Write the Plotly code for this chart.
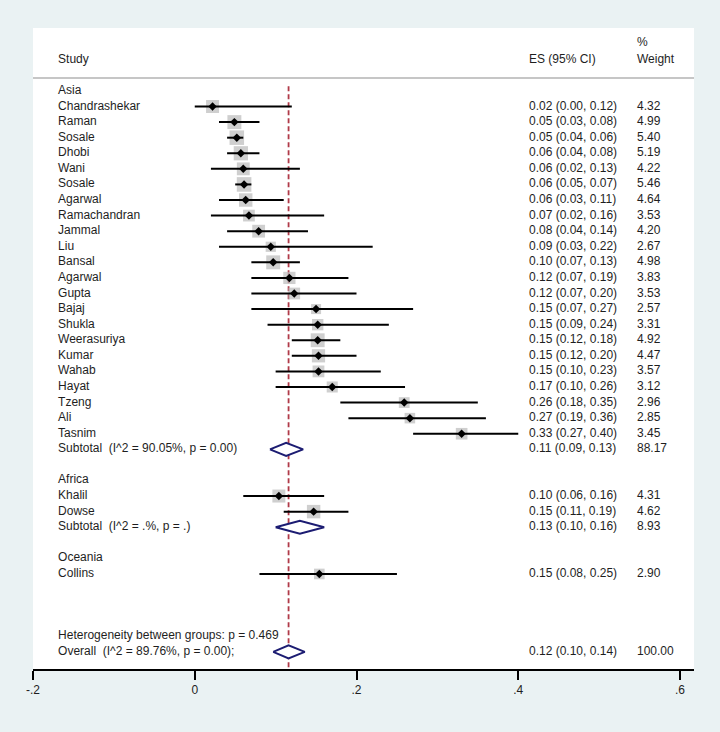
import plotly.graph_objects as go

# ---------------- data ----------------
asia_studies = ["Chandrashekar", "Raman", "Sosale", "Dhobi", "Wani", "Sosale", "Agarwal",
                "Ramachandran", "Jammal", "Liu", "Bansal", "Agarwal", "Gupta", "Bajaj",
                "Shukla", "Weerasuriya", "Kumar", "Wahab", "Hayat", "Tzeng", "Ali", "Tasnim"]
asia_es = [0.022, 0.049, 0.052, 0.057, 0.060, 0.061, 0.063, 0.067, 0.079, 0.094, 0.097,
           0.117, 0.123, 0.150, 0.152, 0.152, 0.153, 0.153, 0.170, 0.259, 0.266, 0.330]
asia_lo = [0.00, 0.03, 0.04, 0.04, 0.02, 0.05, 0.03, 0.02, 0.04, 0.03, 0.07,
           0.07, 0.07, 0.07, 0.09, 0.12, 0.12, 0.10, 0.10, 0.18, 0.19, 0.27]
asia_hi = [0.12, 0.08, 0.06, 0.08, 0.13, 0.07, 0.11, 0.16, 0.14, 0.22, 0.13,
           0.19, 0.20, 0.27, 0.24, 0.18, 0.20, 0.23, 0.26, 0.35, 0.36, 0.40]
asia_w = [4.32, 4.99, 5.40, 5.19, 4.22, 5.46, 4.64, 3.53, 4.20, 2.67, 4.98,
          3.83, 3.53, 2.57, 3.31, 4.92, 4.47, 3.57, 3.12, 2.96, 2.85, 3.45]
asia_sub = {"label": "Subtotal\u00a0 (I^2 = 90.05%, p = 0.00)", "es": 0.113, "lo": 0.093, "hi": 0.134, "w": 88.17}

africa_studies = ["Khalil", "Dowse"]
africa_es = [0.104, 0.147]
africa_lo = [0.06, 0.11]
africa_hi = [0.16, 0.19]
africa_w = [4.31, 4.62]
africa_sub = {"label": "Subtotal\u00a0 (I^2 = .%, p = .)", "es": 0.13, "lo": 0.10, "hi": 0.16, "w": 8.93}

oceania_studies = ["Collins"]
oceania_es = [0.154]
oceania_lo = [0.08]
oceania_hi = [0.25]
oceania_w = [2.90]

heterogeneity_text = "Heterogeneity between groups: p = 0.469"
overall = {"label": "Overall\u00a0 (I^2 = 89.76%, p = 0.00);", "es": 0.116, "lo": 0.097, "hi": 0.136, "w": 100.00}

tick_vals = [-0.2, 0, 0.2, 0.4, 0.6]
tick_text = ["-.2", "0", ".2", ".4", ".6"]

groups = [
    ("Asia", asia_studies, asia_es, asia_lo, asia_hi, asia_w, asia_sub),
    ("Africa", africa_studies, africa_es, africa_lo, africa_hi, africa_w, africa_sub),
    ("Oceania", oceania_studies, oceania_es, oceania_lo, oceania_hi, oceania_w, None),
]

# ---------------- layout of rows ----------------
study_rows = []   # (y, name, es, lo, hi, w)
diamond_rows = []  # (y, label, es, lo, hi, w)
label_rows = []   # (y, text)
row = 0
for gname, names, es, lo, hi, w, sub in groups:
    label_rows.append((row, gname))
    row += 1
    for i in range(len(names)):
        study_rows.append((row, names[i], es[i], lo[i], hi[i], w[i]))
        row += 1
    if sub is not None:
        diamond_rows.append((row, sub["label"], sub["es"], sub["lo"], sub["hi"], sub["w"]))
        row += 1
    row += 1
row += 2
label_rows.append((row, heterogeneity_text))
row += 1
diamond_rows.append((row, overall["label"], overall["es"], overall["lo"], overall["hi"], overall["w"]))

X_LABEL, X_ES, X_W = -0.169, 0.4133, 0.5468
TXT = "#1e1e1e"
FONT = "Liberation Sans, Arial, sans-serif"

fig = go.Figure()

# weight boxes
fig.add_trace(go.Scatter(
    x=[r[2] for r in study_rows], y=[r[0] for r in study_rows], mode="markers",
    marker=dict(symbol="square", size=[6.25 * r[5] ** 0.5 for r in study_rows],
                color="#bababa", line=dict(width=0)),
    hoverinfo="skip", showlegend=False))

# CI lines
lx, ly = [], []
for r in study_rows:
    lx += [r[3], r[4], None]
    ly += [r[0], r[0], None]
fig.add_trace(go.Scatter(x=lx, y=ly, mode="lines", line=dict(color="black", width=2),
                         hoverinfo="skip", showlegend=False))

# point estimates
fig.add_trace(go.Scatter(
    x=[r[2] for r in study_rows], y=[r[0] for r in study_rows], mode="markers",
    marker=dict(symbol="diamond", size=6.5, color="black", line=dict(width=0)),
    hoverinfo="skip", showlegend=False))

# diamonds
H = 0.42
for r in diamond_rows:
    y, _, es, lo, hi, _ = r
    fig.add_trace(go.Scatter(
        x=[lo, es, hi, es, lo], y=[y, y - H, y, y + H, y], mode="lines",
        fill="toself", fillcolor="white", line=dict(color="#1c1c72", width=2),
        hoverinfo="skip", showlegend=False))

# text columns
lab_y = [r[0] for r in label_rows] + [r[0] for r in study_rows] + [r[0] for r in diamond_rows]
lab_t = [r[1] for r in label_rows] + [r[1] for r in study_rows] + [r[1] for r in diamond_rows]
fig.add_trace(go.Scatter(x=[X_LABEL] * len(lab_y), y=lab_y, text=lab_t, mode="text",
                         textposition="middle right", textfont=dict(size=12, color=TXT, family=FONT),
                         hoverinfo="skip", showlegend=False))

allr = study_rows + diamond_rows
es_t = [f"{r[2]:.2f} ({r[3]:.2f}, {r[4]:.2f})" for r in allr]
w_t = [f"{r[5]:.2f}" for r in allr]
fig.add_trace(go.Scatter(x=[X_ES] * len(allr), y=[r[0] for r in allr], text=es_t, mode="text",
                         textposition="middle right", textfont=dict(size=12, color=TXT, family=FONT),
                         hoverinfo="skip", showlegend=False))
fig.add_trace(go.Scatter(x=[X_W] * len(allr), y=[r[0] for r in allr], text=w_t, mode="text",
                         textposition="middle right", textfont=dict(size=12, color=TXT, family=FONT),
                         hoverinfo="skip", showlegend=False))

# headers
fig.add_trace(go.Scatter(x=[X_LABEL, X_ES, X_W, X_W], y=[-2, -2, -2, -3.1],
                         text=["Study", "ES (95% CI)", "Weight", "%"], mode="text",
                         textposition="middle right", textfont=dict(size=12, color=TXT, family=FONT),
                         hoverinfo="skip", showlegend=False))

Y_TOP, Y_BOT = -4.04, 37.1
# header separator
fig.add_shape(type="line", xref="paper", x0=0, x1=1, yref="y", y0=-0.83, y1=-0.83,
              line=dict(color="#c6c6c6", width=2))
# reference dashed line at overall estimate
fig.add_shape(type="line", xref="x", x0=overall["es"], x1=overall["es"], yref="y", y0=-0.3, y1=Y_BOT,
              line=dict(color="#b03a48", width=1.8, dash="5px,3px"), layer="below")

fig.update_layout(
    width=720, height=732,
    margin=dict(l=33, r=26, t=28, b=63),
    paper_bgcolor="#eaf2f3", plot_bgcolor="white",
    font=dict(family=FONT, size=12, color=TXT),
    xaxis=dict(range=[-0.2, 0.6173], tickvals=tick_vals, ticktext=tick_text,
               ticks="outside", ticklen=9, tickwidth=2, tickcolor="black",
               showline=True, linecolor="black", linewidth=2, showgrid=False, zeroline=False,
               tickfont=dict(size=12, color=TXT, family=FONT)),
    yaxis=dict(range=[Y_BOT, Y_TOP], visible=False, showgrid=False, zeroline=False),
)

fig.write_html("out.html", config={"displayModeBar": False}, post_script=(
    "document.body.style.margin='0';document.body.style.padding='0';"
    "document.body.style.overflow='hidden';document.body.style.background='#eaf2f3';"))
